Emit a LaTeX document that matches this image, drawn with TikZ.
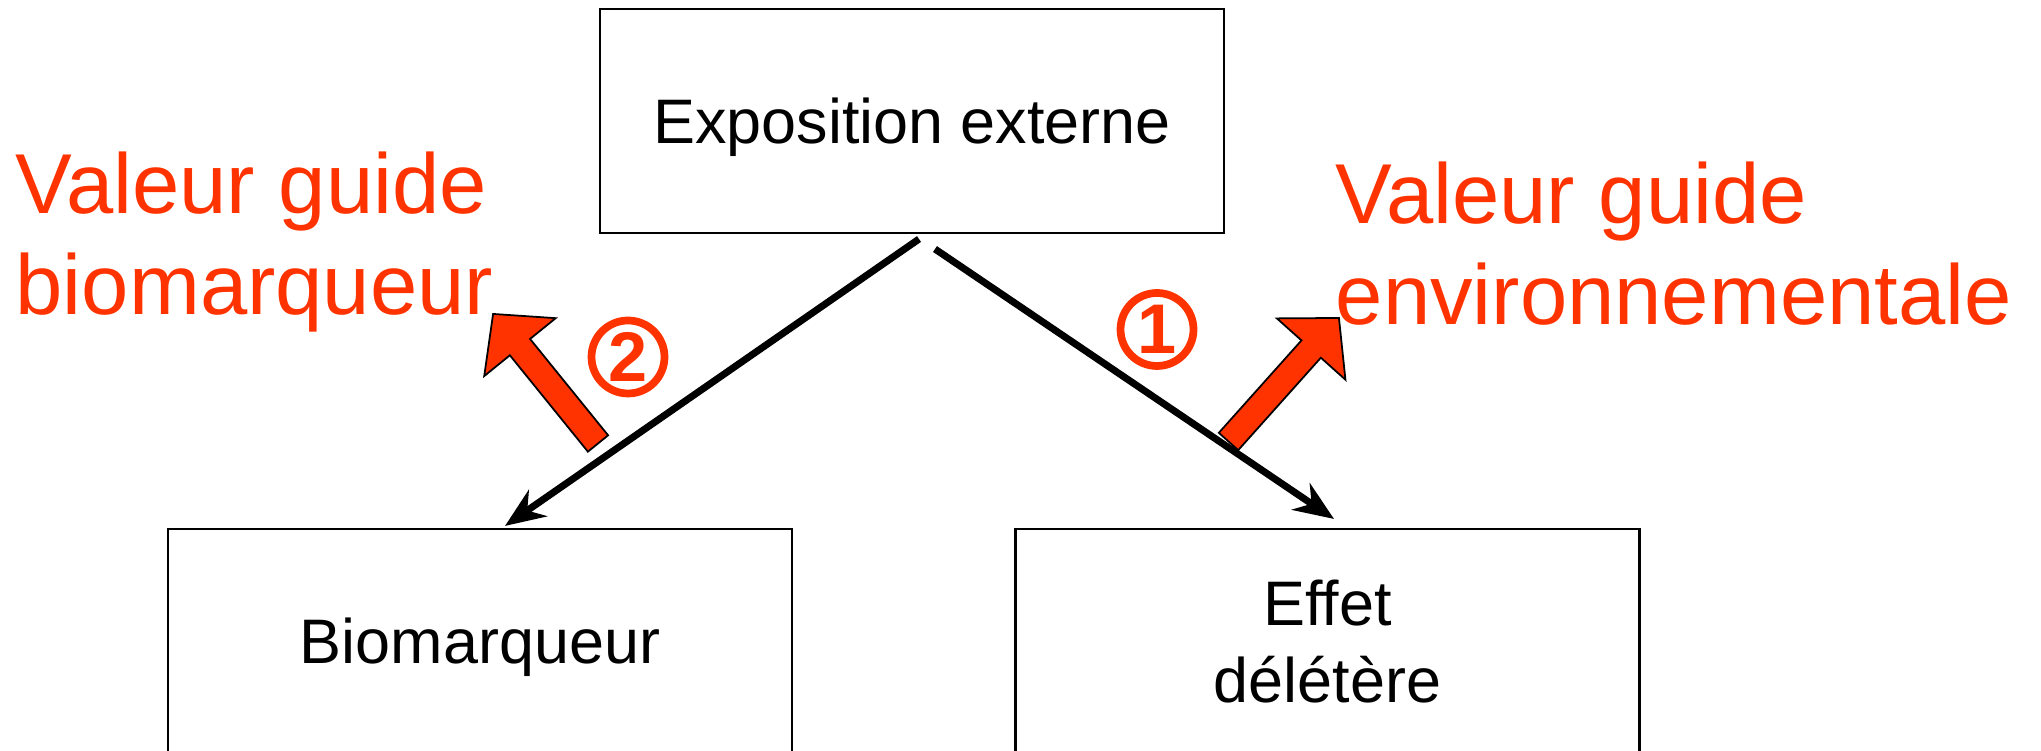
\documentclass[tikz,border=0pt]{standalone}
\usepackage{fontspec}
\setmainfont{Liberation Sans}
\usepackage{tikz}
\usetikzlibrary{arrows.meta}
\definecolor{vgred}{RGB}{255,51,0}

\begin{document}
\begin{tikzpicture}[
        box/.style={draw, line width=0.6pt, minimum width=6.24cm, minimum height=2.24cm, inner sep=0pt, text depth=0pt, align=center, font=\fontsize{17.9}{21.9}\selectfont},
        flow/.style={line width=2pt, -{Stealth[length=0.4cm, width=0.32cm]}},
        guide/.style={text=vgred, align=left, inner sep=0pt, font=\fontsize{24.2}{29}\selectfont},
        bigarrow/.style={draw, line width=0.5pt, fill=vgred, line join=miter},
        numring/.style={circle, draw=vgred, line width=2.2pt, text=vgred, minimum size=0.73cm, inner sep=0pt, font=\fontsize{20}{20}\selectfont\bfseries}
    ]
        \useasboundingbox (0,0) rectangle (20.41,7.51);

        \node[box] (expo) at (9.12,6.30) {Exposition externe};
        \node[box] (bio) at (4.80,1.10) {Biomarqueur};
        \node[box] (effet) at (13.275,1.10) {Effet\\délétère};

        \node[guide, anchor=base west] (vgbio) at (0.15,4.36) {Valeur guide\\biomarqueur};
        \node[guide, anchor=base west] (vgenv) at (13.35,4.26) {Valeur guide\\environnementale};

        % block arrows
        \begin{scope}[shift={(5.98,3.075)}, rotate=129.0]
            \draw[bigarrow] (0,-0.13) -- (1.24,-0.13) -- (1.24,-0.46) -- (1.667,0) -- (1.24,0.46) -- (1.24,0.13) -- (0,0.13) -- cycle;
        \end{scope}
        \begin{scope}[shift={(12.285,3.095)}, rotate=48.2]
            \draw[bigarrow] (0,-0.13) -- (1.24,-0.13) -- (1.24,-0.46) -- (1.657,0) -- (1.24,0.46) -- (1.24,0.13) -- (0,0.13) -- cycle;
        \end{scope}

        \node[numring] (two) at (6.28,3.94) {2};
        \node[numring] (one) at (11.57,4.215) {1};

        \coordinate (startL) at ([xshift=0.07cm, yshift=-0.05cm]expo.south);
        \coordinate (startR) at ([xshift=0.23cm, yshift=-0.15cm]expo.south);
        \draw[flow] (startL) -- ([xshift=0.25cm, yshift=0.02cm]bio.north);
        \draw[flow] (startR) -- ([xshift=0.065cm, yshift=0.09cm]effet.north);
    \end{tikzpicture}
\end{document}
